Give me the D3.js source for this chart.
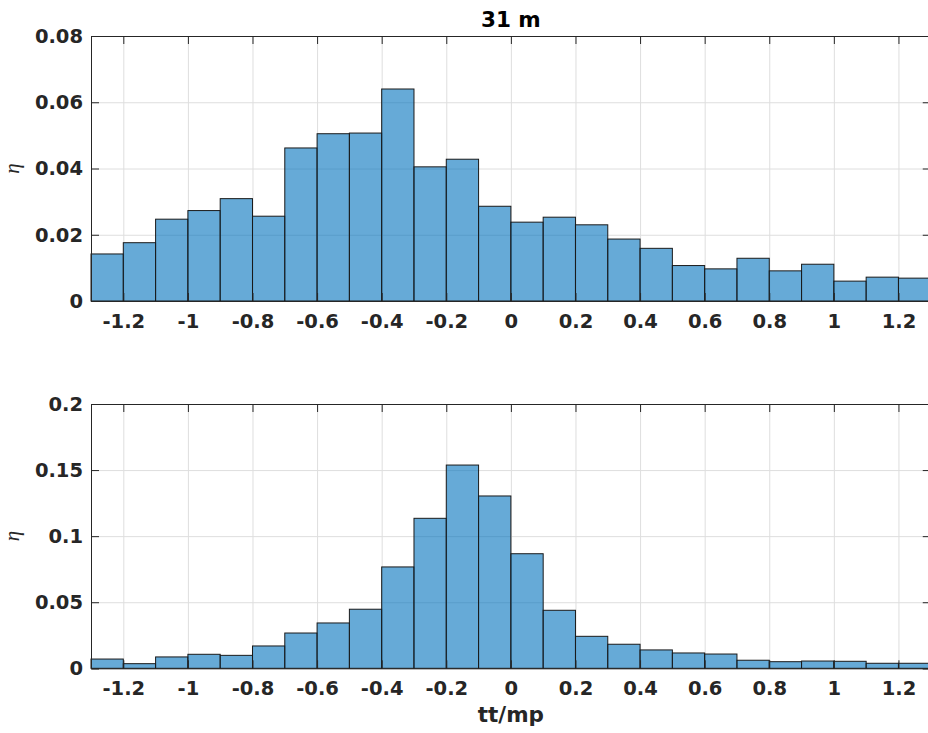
<!DOCTYPE html>
<html>
<head>
<meta charset="utf-8">
<script src="https://cdn.jsdelivr.net/npm/d3@7"></script>
<style>
    html, body { margin: 0; padding: 0; background: #fff; overflow: hidden; }
    svg { display: block; }
</style>
</head>
<body>
<script>
// bin edges of the histogram (tt/mp)
const binEdges = [-1.3, -1.2, -1.1, -1.0, -0.9, -0.8, -0.7, -0.6, -0.5, -0.4, -0.3, -0.2, -0.1,
    0, 0.1, 0.2, 0.3, 0.4, 0.5, 0.6, 0.7, 0.8, 0.9, 1.0, 1.1, 1.2, 1.3];

// normalised counts, upper panel
const etaTop = [0.0142, 0.0176, 0.0247, 0.0273, 0.0309, 0.0256, 0.0462, 0.0505, 0.0507, 0.0640,
    0.0405, 0.0428, 0.0286, 0.0238, 0.0253, 0.0230, 0.0187, 0.0159, 0.0107, 0.0097,
    0.0129, 0.0091, 0.0111, 0.0060, 0.0072, 0.0069];

// normalised counts, lower panel
const etaBottom = [0.0070, 0.0035, 0.0086, 0.0106, 0.0098, 0.0169, 0.0267, 0.0343, 0.0447, 0.0767,
    0.1135, 0.1538, 0.1304, 0.0867, 0.0439, 0.0242, 0.0182, 0.0139, 0.0116, 0.0108,
    0.0061, 0.0050, 0.0055, 0.0053, 0.0038, 0.0038];

const xTicks = [-1.2, -1, -0.8, -0.6, -0.4, -0.2, 0, 0.2, 0.4, 0.6, 0.8, 1, 1.2];
const yTicksTop = [0, 0.02, 0.04, 0.06, 0.08];
const yTicksBottom = [0, 0.05, 0.1, 0.15, 0.2];

const title = "31 m";
const xLabel = "tt/mp";
const yLabel = "η";

const width = 928;
const height = 733;
const left = 91;
const right = 930.75;
const axisColor = "#262626";
const font = "'DejaVu Sans', sans-serif";
const tickFont = 19.5;
const tickLen = 8;

const svg = d3.select("body")
    .append("svg")
    .attr("width", width)
    .attr("height", height);

const x = d3.scaleLinear()
    .domain([-1.3, 1.3])
    .range([left, right]);

const fmt = d => String(+d.toFixed(2));

const drawPanel = (values, yTicks, yMax, top, bottom) => {
    const y = d3.scaleLinear()
        .domain([0, yMax])
        .range([bottom, top]);
    const h = bottom - top;
    const g = svg.append("g");

    // grid
    g.append("g")
        .attr("transform", `translate(0,${bottom})`)
        .call(d3.axisBottom(x).tickValues(xTicks).tickSize(-h).tickFormat(""))
        .call(s => s.select(".domain").remove())
        .selectAll("line")
        .attr("stroke", "#dedede");
    g.append("g")
        .attr("transform", `translate(${left},0)`)
        .call(d3.axisLeft(y).tickValues(yTicks).tickSize(-(right - left)).tickFormat(""))
        .call(s => s.select(".domain").remove())
        .selectAll("line")
        .attr("stroke", "#dedede");

    // bars
    const bins = values.map((v, i) => ({ x0: binEdges[i], x1: binEdges[i + 1], v: v }));
    g.append("g")
        .selectAll("rect")
        .data(bins)
        .enter()
        .append("rect")
        .attr("x", d => x(d.x0))
        .attr("y", d => y(d.v))
        .attr("width", d => x(d.x1) - x(d.x0))
        .attr("height", d => y(0) - y(d.v))
        .attr("fill", "#0072BD")
        .attr("fill-opacity", 0.6)
        .attr("stroke", "#1a1a1a")
        .attr("stroke-width", 1);

    // axes with inward ticks
    const xb = g.append("g")
        .attr("transform", `translate(0,${bottom})`)
        .call(d3.axisBottom(x).tickValues(xTicks).tickSize(-tickLen).tickPadding(13).tickFormat(fmt));
    const xt = g.append("g")
        .attr("transform", `translate(0,${top})`)
        .call(d3.axisTop(x).tickValues(xTicks).tickSize(-tickLen).tickFormat(""));
    const yl = g.append("g")
        .attr("transform", `translate(${left},0)`)
        .call(d3.axisLeft(y).tickValues(yTicks).tickSize(-tickLen).tickPadding(8).tickFormat(fmt));
    const yr = g.append("g")
        .attr("transform", `translate(${right},0)`)
        .call(d3.axisRight(y).tickValues(yTicks).tickSize(-tickLen).tickFormat(""));

    [xb, xt, yl, yr].forEach(a => {
        a.selectAll("path, line").attr("stroke", axisColor);
        a.selectAll("text")
            .attr("fill", axisColor)
            .style("font-family", font)
            .style("font-weight", "bold")
            .style("font-size", tickFont + "px");
    });

    // y label
    svg.append("text")
        .attr("transform", `translate(19,${(top + bottom) / 2}) rotate(-90)`)
        .attr("text-anchor", "middle")
        .style("font-family", "'Liberation Serif', serif")
        .style("font-style", "italic")
        .style("font-size", "21px")
        .attr("fill", axisColor)
        .text(yLabel);

    return y;
};

drawPanel(etaTop, yTicksTop, 0.08, 36, 301);
drawPanel(etaBottom, yTicksBottom, 0.2, 404, 668.3);

svg.append("text")
    .attr("x", (left + right) / 2)
    .attr("y", 27)
    .attr("text-anchor", "middle")
    .style("font-family", font)
    .style("font-weight", "bold")
    .style("font-size", "21.5px")
    .attr("fill", "#000")
    .text(title);

svg.append("text")
    .attr("x", (left + right) / 2)
    .attr("y", 722)
    .attr("text-anchor", "middle")
    .style("font-family", font)
    .style("font-weight", "bold")
    .style("font-size", "21.5px")
    .attr("fill", axisColor)
    .text(xLabel);
</script>
</body>
</html>
